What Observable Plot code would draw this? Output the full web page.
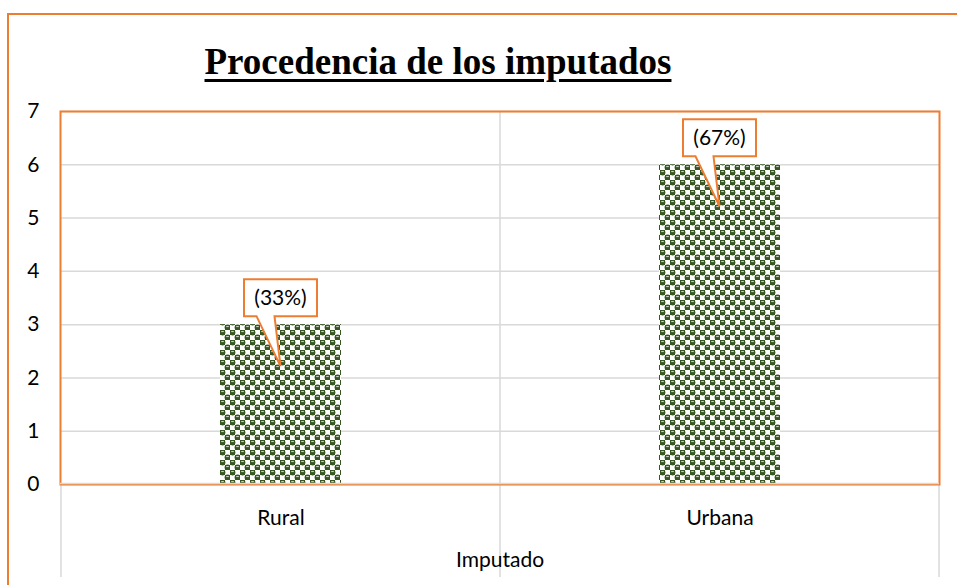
<!DOCTYPE html>
<html>
<head>
<meta charset="utf-8">
<script src="https://cdn.jsdelivr.net/npm/d3@7"></script>
<script src="https://cdn.jsdelivr.net/npm/@observablehq/plot@0.6"></script>
<style>
  html, body { margin: 0; padding: 0; background: #fff; }
  #wrap { position: relative; width: 957px; height: 585px; overflow: hidden; background: #fff; }
  #outer { position: absolute; left: 7px; top: 13px; width: 1000px; height: 1000px;
           border-left: 2px solid #ED7D31; border-top: 2px solid #ED7D31; box-sizing: border-box; }
  #title { position: absolute; left: 0; width: 876px; top: 40px; text-align: center;
           font-family: "Liberation Serif", "Times New Roman", serif; font-weight: bold; font-size: 37px;
           line-height: 44px; color: #000; text-decoration: underline; text-decoration-thickness: 2.5px;
           text-underline-offset: 5px; }
  #chart { position: absolute; left: 0; top: 0; }
</style>
</head>
<body>
<div id="wrap">
  <div id="outer"></div>
  <div id="chart"></div>
  <div id="title">Procedencia de los imputados</div>
</div>
<script>
const categories = ["Rural", "Urbana"];
const counts = [3, 6];
const calloutLabels = ["(33%)", "(67%)"];
const yTicks = [0, 1, 2, 3, 4, 5, 6, 7];
const xLabel = "Imputado";

const data = categories.map((c, i) => ({category: c, value: counts[i], label: calloutLabels[i]}));

const ORANGE = "#ED7D31";
const GRID = "#d9d9d9";
const FONT = "Lato, 'Open Sans', sans-serif";
const SVGNS = "http://www.w3.org/2000/svg";

// pattern definitions (Excel "sphere"-like fill)
function patternDefs() {
  const g = document.createElementNS(SVGNS, "g");
  g.innerHTML = `<defs>
    <pattern id="sphere" patternUnits="userSpaceOnUse" width="10" height="10">
      <rect width="10" height="10" fill="#ffffff"/>
      <rect x="0" y="0" width="5" height="5" fill="#375623"/>
      <rect x="5" y="5" width="5" height="5" fill="#375623"/>
      <circle cx="2.5" cy="2.5" r="2.9" fill="#375623"/>
      <circle cx="7.5" cy="7.5" r="2.9" fill="#375623"/>
      <rect x="1.2" y="1" width="2.6" height="1.1" fill="#c8d2bf"/>
      <rect x="6.2" y="6" width="2.6" height="1.1" fill="#c8d2bf"/>
    </pattern>
  </defs>`;
  return g;
}

// category separators extending below the axis
function separators(index, scales, values, dims) {
  const g = document.createElementNS(SVGNS, "g");
  const x = scales.x;
  const step = x.step();
  const xs = categories.map(c => x(c));
  xs.push(x(categories[categories.length - 1]) + step);
  const bottom = dims.height - 8;
  xs.forEach((px, i) => {
    const l = document.createElementNS(SVGNS, "line");
    const top = (i === 0 || i === xs.length - 1) ? dims.height - dims.marginBottom : dims.marginTop;
    l.setAttribute("x1", px); l.setAttribute("x2", px);
    l.setAttribute("y1", top); l.setAttribute("y2", bottom);
    l.setAttribute("stroke", GRID); l.setAttribute("stroke-width", 1.5);
    g.appendChild(l);
  });
  return g;
}

// callout boxes
function callouts(index, scales, values, dims) {
  const g = document.createElementNS(SVGNS, "g");
  const x = scales.x, y = scales.y;
  data.forEach(d => {
    const cx = x(d.category) + x.bandwidth() / 2;
    const top = y(d.value);
    const bt = top - 45, bb = top - 8, bl = cx - 36.5, br = cx + 36.5;
    const tipY = top + 42;
    const p = document.createElementNS(SVGNS, "path");
    p.setAttribute("d", `M${bl},${bt}H${br}V${bb}H${cx - 6}L${cx},${tipY}L${cx - 24},${bb}H${bl}Z`);
    p.setAttribute("fill", "#fff");
    p.setAttribute("stroke", ORANGE);
    p.setAttribute("stroke-width", 2);
    p.setAttribute("stroke-linejoin", "miter");
    g.appendChild(p);
    const t = document.createElementNS(SVGNS, "text");
    t.setAttribute("x", cx);
    t.setAttribute("y", (bt + bb) / 2);
    t.setAttribute("dy", "0.35em");
    t.setAttribute("text-anchor", "middle");
    t.setAttribute("font-family", FONT);
    t.setAttribute("font-size", 21);
    t.setAttribute("fill", "#000");
    t.textContent = d.label;
    g.appendChild(t);
  });
  return g;
}

const chart = Plot.plot({
  width: 957,
  height: 585,
  marginLeft: 60,
  marginRight: 18,
  marginTop: 111,
  marginBottom: 101,
  style: {fontFamily: FONT, fontSize: "21px", color: "#000", background: "transparent", overflow: "visible"},
  x: {domain: categories, padding: 0, label: null},
  y: {domain: [0, 7], label: null},
  marks: [
    patternDefs,
    Plot.ruleY(yTicks, {stroke: GRID, strokeWidth: 1.5}),
    separators,
    Plot.barY(data, {x: "category", y: "value", fill: "url(#sphere)", insetLeft: 159, insetRight: 159}),
    Plot.frame({stroke: ORANGE, strokeWidth: 2}),
    Plot.ruleY([0], {stroke: GRID, strokeWidth: 1.5, dy: -1}),
    Plot.axisY(yTicks, {tickSize: 0, tickPadding: 21, fontSize: 21, fill: "#000", tickFormat: d3.format("d")}),
    Plot.axisX({tickSize: 0, tickPadding: 26, fontSize: 21, fill: "#000", label: null}),
    Plot.text([xLabel], {frameAnchor: "bottom", dy: 82, fontSize: 21, fill: "#000"}),
    callouts
  ]
});
document.getElementById("chart").appendChild(chart);
</script>
</body>
</html>
